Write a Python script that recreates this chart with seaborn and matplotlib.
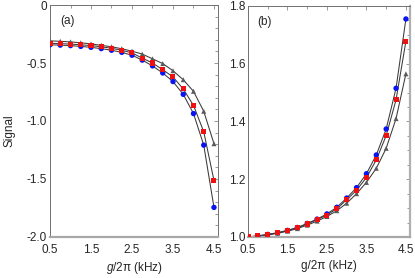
import matplotlib
matplotlib.use("Agg")
import matplotlib.pyplot as plt
import numpy as np
import seaborn as sns
from matplotlib.ticker import MultipleLocator

sns.set_theme(style="white")
plt.rcParams["font.family"] = ["Liberation Sans", "DejaVu Sans"]
plt.rcParams["mathtext.fontset"] = "custom"
plt.rcParams["mathtext.rm"] = "Liberation Sans"
plt.rcParams["mathtext.it"] = "Liberation Sans:italic"

# coupling g/2pi (kHz)
g_khz = [0.5, 0.75, 1.0, 1.25, 1.5, 1.75, 2.0, 2.25, 2.5, 2.75,
         3.0, 3.25, 3.5, 3.75, 4.0, 4.25, 4.5]

# panel (a)
a_blue = [-0.343, -0.346, -0.350, -0.357, -0.365, -0.376, -0.390, -0.408, -0.433,
          -0.475, -0.525, -0.586, -0.660, -0.770, -0.936, -1.208, -1.745]
a_red = [-0.330, -0.333, -0.337, -0.343, -0.350, -0.360, -0.373, -0.390, -0.413,
         -0.458, -0.500, -0.558, -0.620, -0.724, -0.865, -1.093, -1.513]
a_gray = [-0.309, -0.313, -0.318, -0.326, -0.335, -0.348, -0.360, -0.377, -0.398,
          -0.423, -0.464, -0.505, -0.567, -0.644, -0.744, -0.916, -1.196]

# panel (b)
b_blue = [1.000, 1.004, 1.009, 1.015, 1.023, 1.033, 1.047, 1.062, 1.080, 1.103,
          1.135, 1.171, 1.219, 1.284, 1.374, 1.515, 1.755]
b_red = [1.000, 1.004, 1.008, 1.014, 1.022, 1.032, 1.045, 1.060, 1.076, 1.098,
         1.129, 1.162, 1.206, 1.267, 1.351, 1.475, 1.678]
b_gray = [1.000, 1.003, 1.007, 1.013, 1.020, 1.029, 1.041, 1.055, 1.071, 1.091,
          1.117, 1.150, 1.189, 1.238, 1.307, 1.410, 1.565]

x_ticks = [0.5, 1.5, 2.5, 3.5, 4.5]
a_yticks = [0, -0.5, -1.0, -1.5, -2.0]
a_ylabels = ["0", "-0.5", "-1.0", "-1.5", "-2.0"]
b_yticks = [1.0, 1.2, 1.4, 1.6, 1.8]
b_ylabels = ["1.0", "1.2", "1.4", "1.6", "1.8"]

LINE = "#3a3a3a"
FS = 8.5


def draw_panel(ax, series, label, yticks, ylabels, ylim, xlabel):
    x = np.array(g_khz)
    for y, color, marker, size in series:
        sns.lineplot(x=x, y=y, ax=ax, color=LINE, lw=0.75, sort=False,
                     estimator=None, zorder=2)
    for y, color, marker, size in series:
        sns.scatterplot(x=x, y=y, ax=ax, color=color, marker=marker, s=size,
                        edgecolor="none", linewidth=0, zorder=3)
    ax.set_xlim(0.5, 4.6)
    ax.set_ylim(*ylim)
    ax.set_xticks(x_ticks)
    ax.set_xticklabels([f"{t:.1f}" for t in x_ticks], fontsize=FS)
    ax.set_yticks(yticks)
    ax.set_yticklabels(ylabels, fontsize=FS)
    ax.xaxis.set_minor_locator(MultipleLocator(0.5))
    ax.yaxis.set_minor_locator(MultipleLocator(0.1 if ylim[1] - ylim[0] > 1 else 0.05))
    ax.tick_params(which="both", direction="in", top=True, right=True,
                   color="#707070", width=0.5)
    ax.tick_params(axis="x", which="both", pad=5)
    ax.tick_params(axis="y", which="both", pad=2)
    ax.tick_params(which="major", length=3)
    ax.tick_params(which="minor", length=2)
    for side in ["left", "top", "right"]:
        ax.spines[side].set_color("#707070")
        ax.spines[side].set_linewidth(0.7)
    ax.spines["bottom"].set_color("#a8a8a8")
    ax.spines["bottom"].set_linewidth(1.6)
    ax.set_xlabel(xlabel, fontsize=FS, labelpad=3)
    ax.set_ylabel("")
    ax.text(0.06, 0.93, label, transform=ax.transAxes, fontsize=FS,
            ha="left", va="center")


fig = plt.figure(figsize=(4.15, 2.78), dpi=100)
ax_a = fig.add_axes([0.1205, 0.1475, 0.405, 0.8345])
ax_b = fig.add_axes([0.5976, 0.1475, 0.39, 0.831])

draw_panel(ax_a,
           [(a_gray, "#5a5a5a", "^", 13), (a_blue, "#0a14f0", "o", 15),
            (a_red, "#f01010", "s", 13)],
           "(a)", a_yticks, a_ylabels, (-2.0, 0.0), "$g$/2π (kHz)")
draw_panel(ax_b,
           [(b_gray, "#5a5a5a", "^", 13), (b_blue, "#0a14f0", "o", 15),
            (b_red, "#f01010", "s", 13)],
           "(b)", b_yticks, b_ylabels, (1.0, 1.8), "g/2π (kHz)")
ax_b.spines["right"].set_color("#b0b0b0")
ax_b.spines["right"].set_linewidth(1.6)

fig.text(0.022, 0.53, "Signal", rotation=90, fontsize=FS, ha="center", va="center")

fig.savefig("out.png", dpi=100)
plt.close(fig)
